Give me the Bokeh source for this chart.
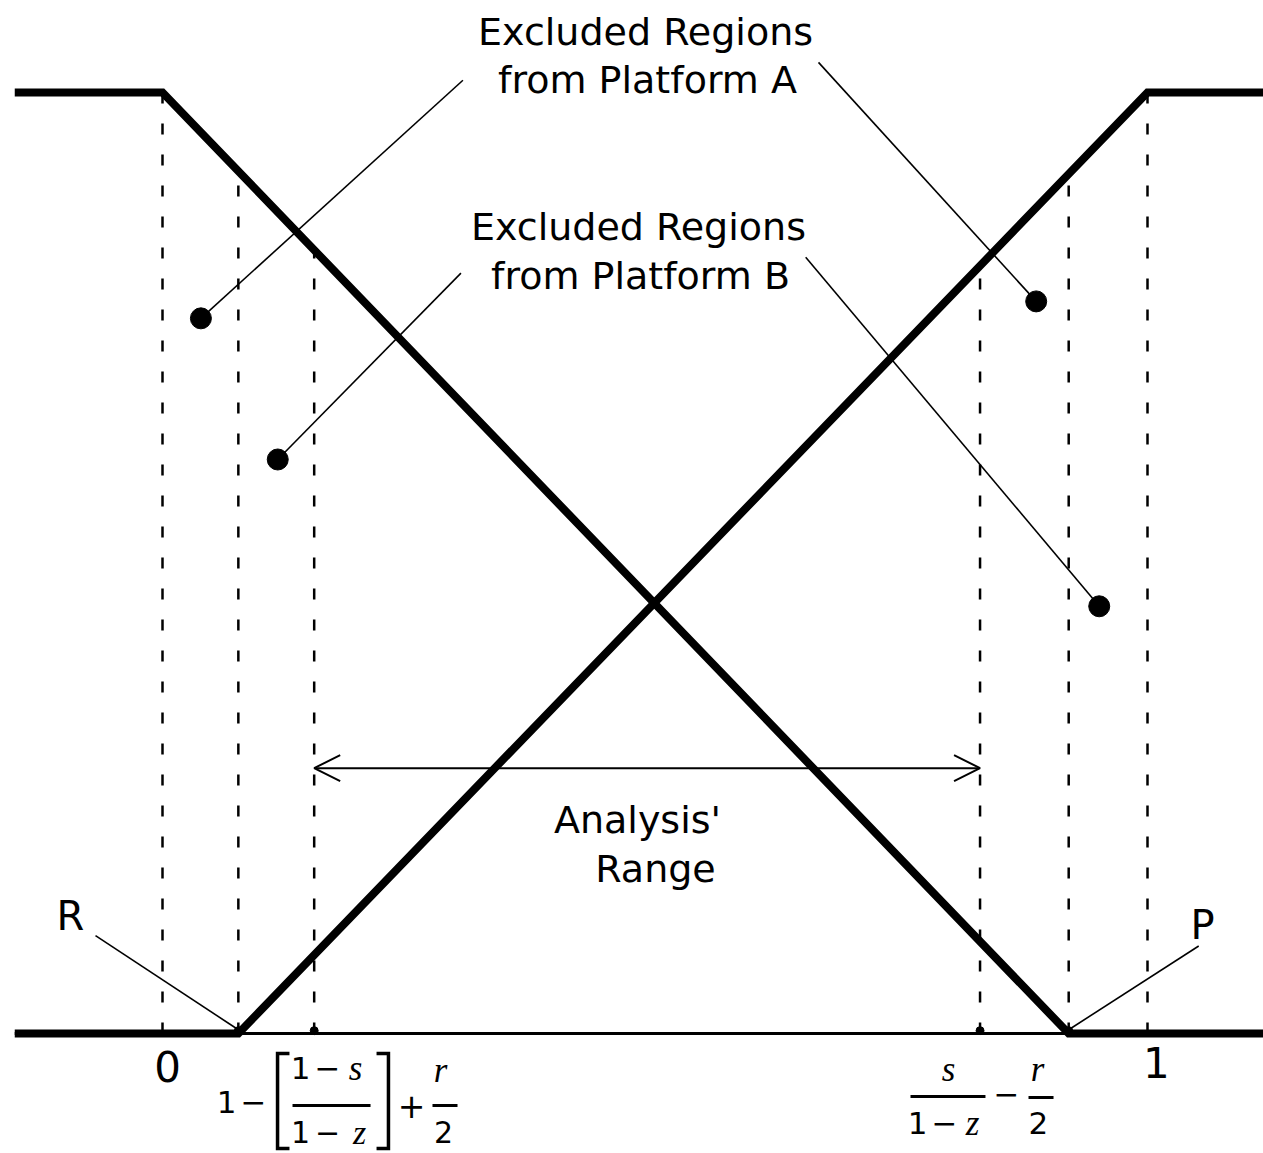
import numpy as np
from bokeh.plotting import figure
from bokeh.models import Range1d, Arrow, OpenHead, Label
from bokeh.embed import file_html
from bokeh.resources import INLINE

# ---- diagram values (unit axis: 0 .. 1 between the two end ticks) ----
x_left_end = -0.150
x_right_end = 1.118
r_point = 0.077        # R: foot of platform B's ramp
p_point = 0.920        # P: foot of platform A's ramp
lower_bound = 0.154    # 1 - [(1-s)/(1-z)] + r/2
upper_bound = 0.830    # s/(1-z) - r/2

platform_a_x = [x_left_end, 0.0, p_point, x_right_end]
platform_a_y = [1.0, 1.0, 0.0, 0.0]
platform_b_x = [x_left_end, r_point, 1.0, x_right_end]
platform_b_y = [0.0, 0.0, 1.0, 1.0]

# excluded-region markers and the label anchors their leaders start from
region_a_dots_x = [0.039, 0.887]
region_a_dots_y = [0.760, 0.778]
region_a_lead_x = [0.305, 0.666]
region_a_lead_y = [1.013, 1.032]
region_b_dots_x = [0.117, 0.951]
region_b_dots_y = [0.610, 0.454]
region_b_lead_x = [0.303, 0.653]
region_b_lead_y = [0.808, 0.825]

arrow_level = 0.282

W, H = 1263, 1153
p = figure(width=W, height=H, output_backend="svg", toolbar_location=None,
           x_range=Range1d(-0.16447, 1.11777), y_range=Range1d(-0.12752, 1.09777),
           min_border=0, min_border_left=0, min_border_right=0,
           min_border_top=0, min_border_bottom=0)
p.axis.visible = False
p.grid.visible = False
p.outline_line_color = None
p.background_fill_color = "white"
p.border_fill_color = "white"

# thin base line
p.line([x_left_end, x_right_end], [0, 0], line_color="black", line_width=3)

# dashed verticals, each from the base up to the curve it meets
def curve_a(x):
    return float(np.interp(x, platform_a_x, platform_a_y))

def curve_b(x):
    return float(np.interp(x, platform_b_x, platform_b_y))

vert_x = [0.0, r_point, lower_bound, upper_bound, p_point, 1.0]
vert_top = [curve_a(0.0), curve_a(r_point), curve_a(lower_bound),
            curve_b(upper_bound), curve_b(p_point), curve_b(1.0)]
p.multi_line([[x, x] for x in vert_x], [[0.0, t] for t in vert_top],
             line_color="black", line_width=2.5, line_dash="11 20")

# the two platform curves
p.line(platform_a_x, platform_a_y, line_color="black", line_width=8, line_join="miter")
p.line(platform_b_x, platform_b_y, line_color="black", line_width=8, line_join="miter")

# leaders from the labels to the excluded-region markers
lead_xs = [[a, b] for a, b in zip(region_a_lead_x, region_a_dots_x)] + \
          [[a, b] for a, b in zip(region_b_lead_x, region_b_dots_x)]
lead_ys = [[a, b] for a, b in zip(region_a_lead_y, region_a_dots_y)] + \
          [[a, b] for a, b in zip(region_b_lead_y, region_b_dots_y)]
p.multi_line(lead_xs, lead_ys, line_color="black", line_width=1.6)
p.scatter(region_a_dots_x + region_b_dots_x, region_a_dots_y + region_b_dots_y,
          size=21, color="black")

# R and P leaders
p.multi_line([[-0.068, r_point], [1.052, p_point]], [[0.104, 0.004], [0.093, 0.004]],
             line_color="black", line_width=1.6)
p.scatter([r_point, lower_bound, upper_bound, p_point], [0.003] * 4,
          size=8, color="black")

# analysis range arrow
p.add_layout(Arrow(x_start=lower_bound, y_start=arrow_level,
                   x_end=upper_bound, y_end=arrow_level,
                   start=OpenHead(size=26, line_width=2, line_color="black"),
                   end=OpenHead(size=26, line_width=2, line_color="black"),
                   line_width=2, line_color="black"))

SANS = "DejaVu Sans"
SERIF = "Liberation Serif"

def label(x, y, text, size, font=SANS, style="normal", align="center"):
    p.add_layout(Label(x=x, y=y, text=text, text_align=align, text_baseline="middle",
                       text_font=font, text_font_size=f"{size}px",
                       text_font_style=style, text_color="black"))

label(0.4904, 1.0638, "Excluded Regions", 38)
label(0.4924, 1.0128, "from Platform A", 38)
label(0.4832, 0.8576, "Excluded Regions", 38)
label(0.4853, 0.8055, "from Platform B", 38)
label(0.4822, 0.2264, "Analysis'", 38)
label(0.5005, 0.1753, "Range", 38)
label(-0.0934, 0.1254, "R", 40)
label(1.0558, 0.1148, "P", 40)
label(0.0051, -0.0351, "0", 42)
label(1.0091, -0.0308, "1", 42)

# lower-bound formula: 1 - [(1-s)/(1-z)] + r/2
label(0.065, -0.0733, "1", 31)
label(0.0924, -0.0733, "\u2212", 31)
label(0.1401, -0.0370, "1", 31)
label(0.1675, -0.0370, "\u2212", 31)
label(0.1959, -0.0370, "s", 35, SERIF, "italic")
label(0.1401, -0.1050, "1", 30)
label(0.1675, -0.1050, "\u2212", 30)
label(0.2000, -0.1050, "z", 34, SERIF, "italic")
label(0.2528, -0.0765, "+", 33)
label(0.2822, -0.0393, "r", 35, SERIF, "italic")
label(0.2853, -0.1050, "2", 30)

# upper-bound formula: s/(1-z) - r/2
label(0.7980, -0.0383, "s", 35, SERIF, "italic")
label(0.7665, -0.0956, "1", 31)
label(0.7939, -0.0956, "\u2212", 31)
label(0.8223, -0.0956, "z", 35, SERIF, "italic")
label(0.8569, -0.0648, "\u2212", 31)
label(0.8883, -0.0383, "r", 35, SERIF, "italic")
label(0.8893, -0.0956, "2", 31)

# fraction bars and brackets
p.multi_line([[0.132, 0.2112], [0.2741, 0.2995], [0.7594, 0.8355], [0.8792, 0.9046]],
             [[-0.0765, -0.0765], [-0.0765, -0.0765], [-0.067, -0.067], [-0.068, -0.068]],
             line_color="black", line_width=3)
p.multi_line([[0.1289, 0.1168, 0.1168, 0.1289], [0.2173, 0.2294, 0.2294, 0.2173]],
             [[-0.0213, -0.0213, -0.1222, -0.1222], [-0.0213, -0.0213, -0.1222, -0.1222]],
             line_color="black", line_width=3.5, line_join="miter")

open("out.html", "w").write(file_html(p, INLINE))
